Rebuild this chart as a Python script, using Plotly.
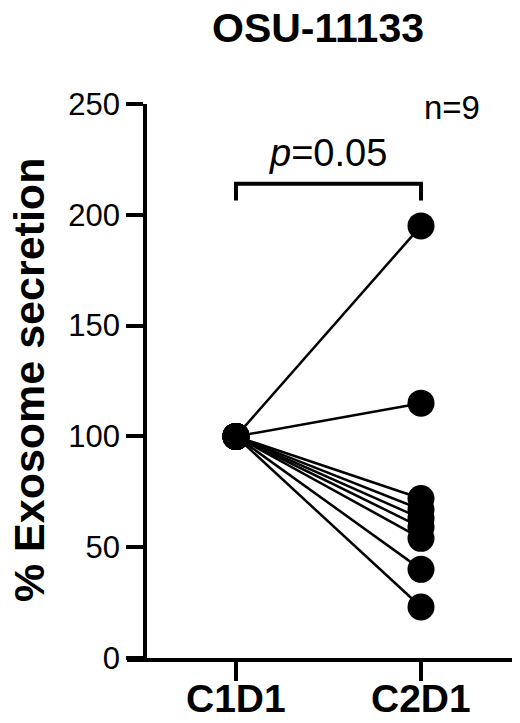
import plotly.graph_objects as go

# paired values, % exosome secretion
timepoints = ["C1D1", "C2D1"]
c1d1 = [100, 100, 100, 100, 100, 100, 100, 100, 100]
c2d1 = [195, 115, 72, 67, 63, 59, 54, 40, 23]
yticks = [0, 50, 100, 150, 200, 250]

FONT = "Liberation Sans, Arial, Helvetica, sans-serif"

# one polyline per patient, broken with None
xs, ys = [], []
for a, b in zip(c1d1, c2d1):
    xs += [0, 1, None]
    ys += [a, b, None]

fig = go.Figure()
fig.add_trace(go.Scatter(
    x=xs, y=ys,
    mode="lines+markers",
    line=dict(color="black", width=2.5),
    marker=dict(size=27, color="black"),
    showlegend=False,
    cliponaxis=False,
))

# significance bracket
fig.add_shape(
    type="path",
    path="M 0,206.5 L 0,214 L 1,214 L 1,206.5",
    line=dict(color="black", width=4),
)

fig.add_annotation(x=0.5, y=228, text="<i>p</i>=0.05", showarrow=False,
                   xanchor="center", yanchor="middle",
                   font=dict(family=FONT, size=38, color="black"))
fig.add_annotation(x=1.17, y=248.5, text="n=9", showarrow=False,
                   xanchor="center", yanchor="middle",
                   font=dict(family=FONT, size=33, color="black"))

# x category labels sit a bit closer to the axis than plotly's tick labels
for i, lab in enumerate(timepoints):
    fig.add_annotation(x=i, xref="x", yref="paper", y=-0.074,
                       text=f"<b>{lab}</b>", showarrow=False,
                       xanchor="center", yanchor="middle",
                       font=dict(family=FONT, size=39, color="black"))

fig.add_annotation(xref="paper", yref="paper", x=0.492, y=1.137,
                   text="<b>OSU-11133</b>", showarrow=False,
                   xanchor="center", yanchor="middle",
                   font=dict(family=FONT, size=41, color="black"))
fig.add_annotation(xref="paper", yref="paper", x=-0.252, y=0.502,
                   text="<b>% Exosome secretion</b>", textangle=-90,
                   showarrow=False, xanchor="center", yanchor="middle",
                   font=dict(family=FONT, size=43, color="black"))

fig.update_xaxes(
    range=[-0.589, 1.508],
    tickvals=[0, 1], showticklabels=False,
    showline=True, linecolor="black", linewidth=3.5,
    ticks="outside", ticklen=19, tickwidth=3.5, tickcolor="black",
    showgrid=False, zeroline=False, automargin=False,
)
fig.update_yaxes(
    range=[0, 250],
    anchor="free", position=0.0464,
    tickvals=yticks,
    showline=True, linecolor="black", linewidth=3.5,
    ticks="outside", ticklen=17, tickwidth=3.5, tickcolor="black",
    tickfont=dict(family=FONT, size=31, color="black"),
    showgrid=False, zeroline=False, automargin=False,
)

# page body adds an 8px offset, so the figure is drawn 8px smaller/shifted
fig.update_layout(
    width=512, height=715,
    margin=dict(l=119, r=5, t=96, b=65),
    plot_bgcolor="white", paper_bgcolor="white",
)

fig.write_html("out.html")
